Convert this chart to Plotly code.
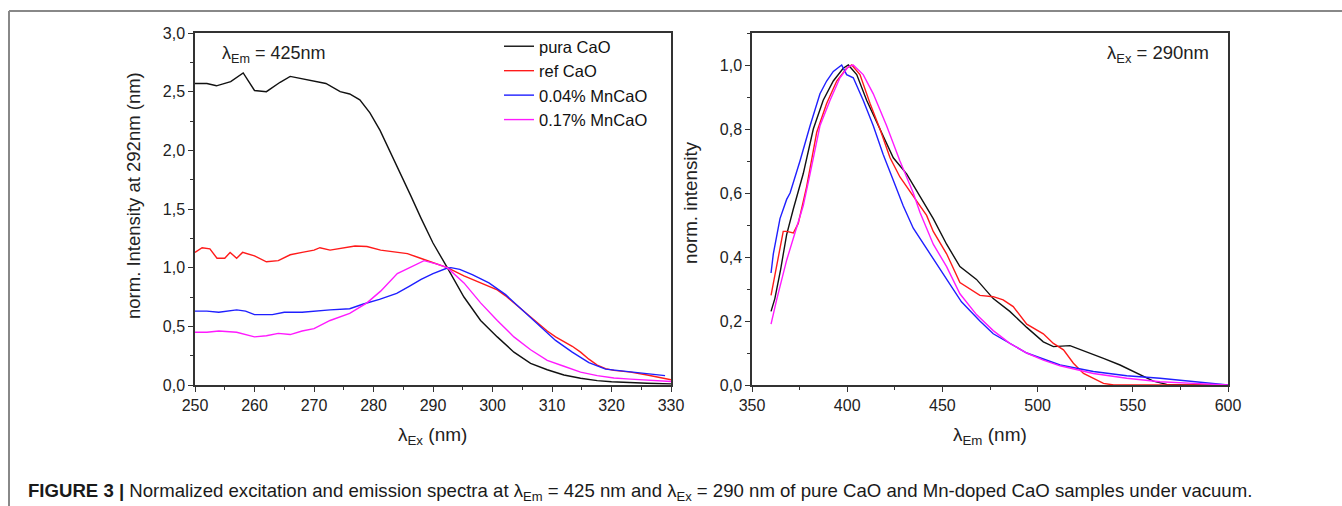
import plotly.graph_objects as go

W, H = 1342, 506

# ---------------- data: excitation spectra (left, lambda_Em = 425 nm) ----------------
ex_pura_x = [250, 252, 253.6, 256, 258.1, 260, 262, 264.3, 266, 268, 270, 272, 274.4, 276, 277.7, 279.4,
             281.1, 282.8, 284.5, 286.2, 288, 290, 292.4, 295.2, 298, 300.8, 303.6, 306.4,
             309.2, 312, 314.8, 317.6, 320, 323.2, 326, 330]
ex_pura_y = [2.57, 2.57, 2.55, 2.585, 2.66, 2.51, 2.50, 2.58, 2.63, 2.61, 2.59, 2.57, 2.50, 2.48, 2.43, 2.32,
             2.17, 1.99, 1.81, 1.62, 1.42, 1.21, 1.00, 0.75, 0.55, 0.41, 0.28, 0.185,
             0.13, 0.085, 0.057, 0.037, 0.028, 0.02, 0.015, 0.01]

ex_ref_x = [250, 251.2, 252.5, 253.7, 255, 255.9, 257, 258, 260, 262, 264, 266, 268, 270, 271, 272.7,
            276.9, 278.9, 281.2, 283.9, 285.7, 287.9, 289.6, 292.4, 295.2, 298, 300.8, 302.2, 303.6,
            305, 306.4, 307.8, 309.2, 310.6, 312, 313.4, 314.8, 316.2, 317.6, 319, 320.4, 323.2, 326, 330]
ex_ref_y = [1.13, 1.17, 1.16, 1.08, 1.08, 1.13, 1.08, 1.13, 1.10, 1.05, 1.06, 1.11, 1.13, 1.15, 1.17, 1.15,
            1.185, 1.18, 1.15, 1.13, 1.12, 1.08, 1.05, 1.00, 0.93, 0.87, 0.81, 0.76, 0.70,
            0.64, 0.58, 0.52, 0.46, 0.41, 0.37, 0.33, 0.28, 0.22, 0.17, 0.14, 0.125, 0.11, 0.085, 0.045]

ex_mn004_x = [250, 252, 254, 257, 258.5, 260, 263, 265, 268, 270, 272.7, 276, 278.3, 281, 283.9, 286,
              288, 290, 292.3, 293, 294.5, 296.6, 299.4, 302.2, 305, 307.8, 310.6, 313.4, 316.2, 319,
              321.8, 324.6, 327.4, 329]
ex_mn004_y = [0.63, 0.63, 0.62, 0.64, 0.63, 0.60, 0.60, 0.62, 0.62, 0.63, 0.64, 0.65, 0.69, 0.73, 0.78, 0.84,
              0.90, 0.95, 0.995, 1.0, 0.985, 0.94, 0.87, 0.77, 0.64, 0.51, 0.38, 0.28, 0.19, 0.135,
              0.12, 0.10, 0.085, 0.08]

ex_mn017_x = [250, 252, 254, 257, 260, 262, 264, 266, 268, 270, 272.7, 276, 278.9, 281.2, 284, 286.8,
              288.5, 290.7, 292.4, 295.2, 298, 300.8, 303.6, 306.4, 309.2, 312, 314.8, 317.6, 320.4,
              323.2, 330]
ex_mn017_y = [0.45, 0.45, 0.46, 0.45, 0.41, 0.42, 0.44, 0.43, 0.46, 0.48, 0.55, 0.61, 0.70, 0.80, 0.95, 1.02,
              1.06, 1.03, 1.00, 0.87, 0.70, 0.55, 0.41, 0.30, 0.21, 0.16, 0.11, 0.08, 0.06,
              0.05, 0.03]

# ---------------- data: emission spectra (right, lambda_Ex = 290 nm) ----------------
em_pura_x = [360, 362, 365, 368.2, 371.7, 376.9, 382.2, 387.4, 392.7, 397.9, 400.6, 405, 410.2, 417.2,
             424.2, 431.2, 438.2, 445.2, 452.2, 459.2, 467.9, 476.7, 485.4, 494.3, 503, 508.3, 517,
             525.8, 534.6, 543.3, 552.1, 560.8, 567.8, 580, 600]
em_pura_y = [0.23, 0.27, 0.36, 0.47, 0.55, 0.66, 0.80, 0.89, 0.95, 0.99, 1.00, 0.97, 0.89, 0.80,
             0.71, 0.66, 0.59, 0.52, 0.44, 0.37, 0.33, 0.27, 0.23, 0.18, 0.135, 0.12, 0.123,
             0.104, 0.083, 0.0625, 0.036, 0.012, 0.002, 0.0, 0.0]

em_ref_x = [360, 362, 364, 366.4, 368.2, 371.7, 374.3, 376.9, 378.7, 384, 389.2, 394.5, 399.7, 402.4,
            406.7, 412, 417.2, 422.5, 427.7, 434.7, 441.7, 445.2, 452.2, 459.2, 464.5, 469.7, 476.7,
            481.9, 487.2, 494.3, 503, 508.3, 513.6, 518.8, 524.1, 529.3, 534.6, 540, 570, 600]
em_ref_y = [0.28, 0.34, 0.40, 0.48, 0.48, 0.475, 0.505, 0.57, 0.62, 0.79, 0.88, 0.95, 0.99, 1.00,
            0.97, 0.88, 0.80, 0.71, 0.65, 0.59, 0.53, 0.48, 0.41, 0.32, 0.30, 0.28, 0.276,
            0.266, 0.245, 0.19, 0.16, 0.13, 0.11, 0.068, 0.036, 0.021, 0.005, 0.0, 0.0, 0.0]

em_mn004_x = [360, 361.2, 364.7, 368.2, 370, 375.2, 380.5, 385.7, 389.2, 392.7, 397.1, 399.7, 403.2,
              408.4, 413.7, 418.9, 424.2, 429.4, 434.7, 443.4, 452.2, 460, 469.7, 476.7, 494.3, 511.8,
              529.3, 546.8, 564.3, 581.8, 600]
em_mn004_y = [0.35, 0.41, 0.52, 0.58, 0.60, 0.70, 0.81, 0.91, 0.95, 0.98, 1.00, 0.97, 0.96,
              0.89, 0.81, 0.72, 0.64, 0.56, 0.49, 0.41, 0.33, 0.26, 0.20, 0.16, 0.10, 0.0625,
              0.042, 0.029, 0.021, 0.01, 0.0]

em_mn017_x = [360, 362.9, 368.2, 373.4, 376.9, 380.5, 385.7, 391, 396.2, 400.6, 403.2, 408.4, 413.7,
              420.7, 427.7, 434.7, 438.2, 445.2, 452.2, 459.2, 467.9, 476.7, 485.4, 494.3, 503, 511.8,
              529.3, 546.8, 564.3, 581.8, 600]
em_mn017_y = [0.19, 0.265, 0.39, 0.49, 0.56, 0.66, 0.81, 0.89, 0.96, 0.995, 1.0, 0.97, 0.91,
              0.81, 0.70, 0.60, 0.54, 0.44, 0.37, 0.285, 0.22, 0.17, 0.13, 0.10, 0.078, 0.06,
              0.036, 0.021, 0.01, 0.005, 0.0]

series_names = ["pura CaO", "ref CaO", "0.04% MnCaO", "0.17% MnCaO"]
series_colors = ["#111111", "#ff1a1a", "#1f1fff", "#ff1aff"]

FONT = "Liberation Sans, Arial, Helvetica, sans-serif"

def px_x(p):
    return p / W

def px_y(p):
    return 1 - p / H

fig = go.Figure()

ex_data = [(ex_pura_x, ex_pura_y), (ex_ref_x, ex_ref_y), (ex_mn004_x, ex_mn004_y), (ex_mn017_x, ex_mn017_y)]
em_data = [(em_pura_x, em_pura_y), (em_ref_x, em_ref_y), (em_mn004_x, em_mn004_y), (em_mn017_x, em_mn017_y)]

for (x, y), name, col in zip(ex_data, series_names, series_colors):
    fig.add_trace(go.Scatter(x=x, y=y, mode="lines", name=name, line=dict(color=col, width=1.4),
                             xaxis="x", yaxis="y", showlegend=True))
for (x, y), name, col in zip(em_data, series_names, series_colors):
    fig.add_trace(go.Scatter(x=x, y=y, mode="lines", name=name, line=dict(color=col, width=1.4),
                             xaxis="x2", yaxis="y2", showlegend=False))

axis_common = dict(showline=True, linecolor="#333333", linewidth=1.5, mirror=True, ticks="outside",
                   ticklen=5, tickwidth=1.2, tickcolor="#333333", showgrid=False, zeroline=False,
                   automargin=False,
                   tickfont=dict(family=FONT, size=16, color="#222222"))

y_top, y_bot = 33, 385
fig.update_layout(
    width=W, height=H, margin=dict(l=0, r=0, t=0, b=0, autoexpand=False),
    paper_bgcolor="white", plot_bgcolor="white",
    separators=",.",
    font=dict(family=FONT, color="#222222"),
    xaxis=dict(domain=[px_x(195), px_x(671)], range=[250, 330], dtick=10, tick0=250,
               minor=dict(dtick=5, ticks="outside", ticklen=3, tickcolor="#333333"),
               anchor="y", **axis_common),
    yaxis=dict(domain=[px_y(y_bot), px_y(y_top)], range=[0, 3.0], dtick=0.5, tickformat=".1f",
               minor=dict(dtick=0.25, ticks="outside", ticklen=3, tickcolor="#333333"),
               anchor="x", **axis_common),
    xaxis2=dict(domain=[px_x(752), px_x(1228)], range=[350, 600], dtick=50, tick0=350,
                minor=dict(dtick=25, ticks="outside", ticklen=3, tickcolor="#333333"),
                anchor="y2", **axis_common),
    yaxis2=dict(domain=[px_y(y_bot), px_y(y_top)], range=[0, 1.1], dtick=0.2, tickformat=".1f",
                minor=dict(dtick=0.1, ticks="outside", ticklen=3, tickcolor="#333333"),
                anchor="x2", **axis_common),
    legend=dict(x=px_x(499), y=px_y(29), xanchor="left", yanchor="top",
                bgcolor="rgba(0,0,0,0)", font=dict(family=FONT, size=16.5, color="#111111"),
                itemwidth=30, tracegroupgap=0),
    showlegend=True,
)

annots = [
    dict(text="λ<sub>Em</sub> = 425nm", x=px_x(220), y=px_y(54), xanchor="left", yanchor="middle",
         font=dict(size=18)),
    dict(text="λ<sub>Ex</sub> = 290nm", x=px_x(1105), y=px_y(54), xanchor="left", yanchor="middle",
         font=dict(size=18.5)),
    dict(text="norm. Intensity at 292nm (nm)", x=px_x(133), y=px_y(196), textangle=-90,
         xanchor="center", yanchor="middle", font=dict(size=18.5)),
    dict(text="norm. intensity", x=px_x(690), y=px_y(203), textangle=-90,
         xanchor="center", yanchor="middle", font=dict(size=18.8)),
    dict(text="λ<sub>Ex</sub> (nm)", x=px_x(432), y=px_y(436), xanchor="center", yanchor="middle",
         font=dict(size=19)),
    dict(text="λ<sub>Em</sub> (nm)", x=px_x(990), y=px_y(436), xanchor="center", yanchor="middle",
         font=dict(size=19)),
    dict(text="<b>FIGURE 3 |</b> Normalized excitation and emission spectra at λ<sub>Em</sub> = 425 nm and "
              "λ<sub>Ex</sub> = 290 nm of pure CaO and Mn-doped CaO samples under vacuum.",
         x=px_x(26), y=px_y(492), xanchor="left", yanchor="middle", font=dict(size=18.6, color="#1a1a1a")),
]
for a in annots:
    a.update(xref="paper", yref="paper", showarrow=False)
    a["font"] = dict(family=FONT, color=a["font"].get("color", "#222222"), size=a["font"]["size"])
    fig.add_annotation(**a)

# surrounding frame (top and left edges)
fig.add_shape(type="line", xref="paper", yref="paper", x0=px_x(9), x1=1, y0=px_y(11), y1=px_y(11),
              line=dict(color="#888888", width=2))
fig.add_shape(type="line", xref="paper", yref="paper", x0=px_x(9), x1=px_x(9), y0=0, y1=px_y(11),
              line=dict(color="#888888", width=2))

fig.write_html("out.html")
